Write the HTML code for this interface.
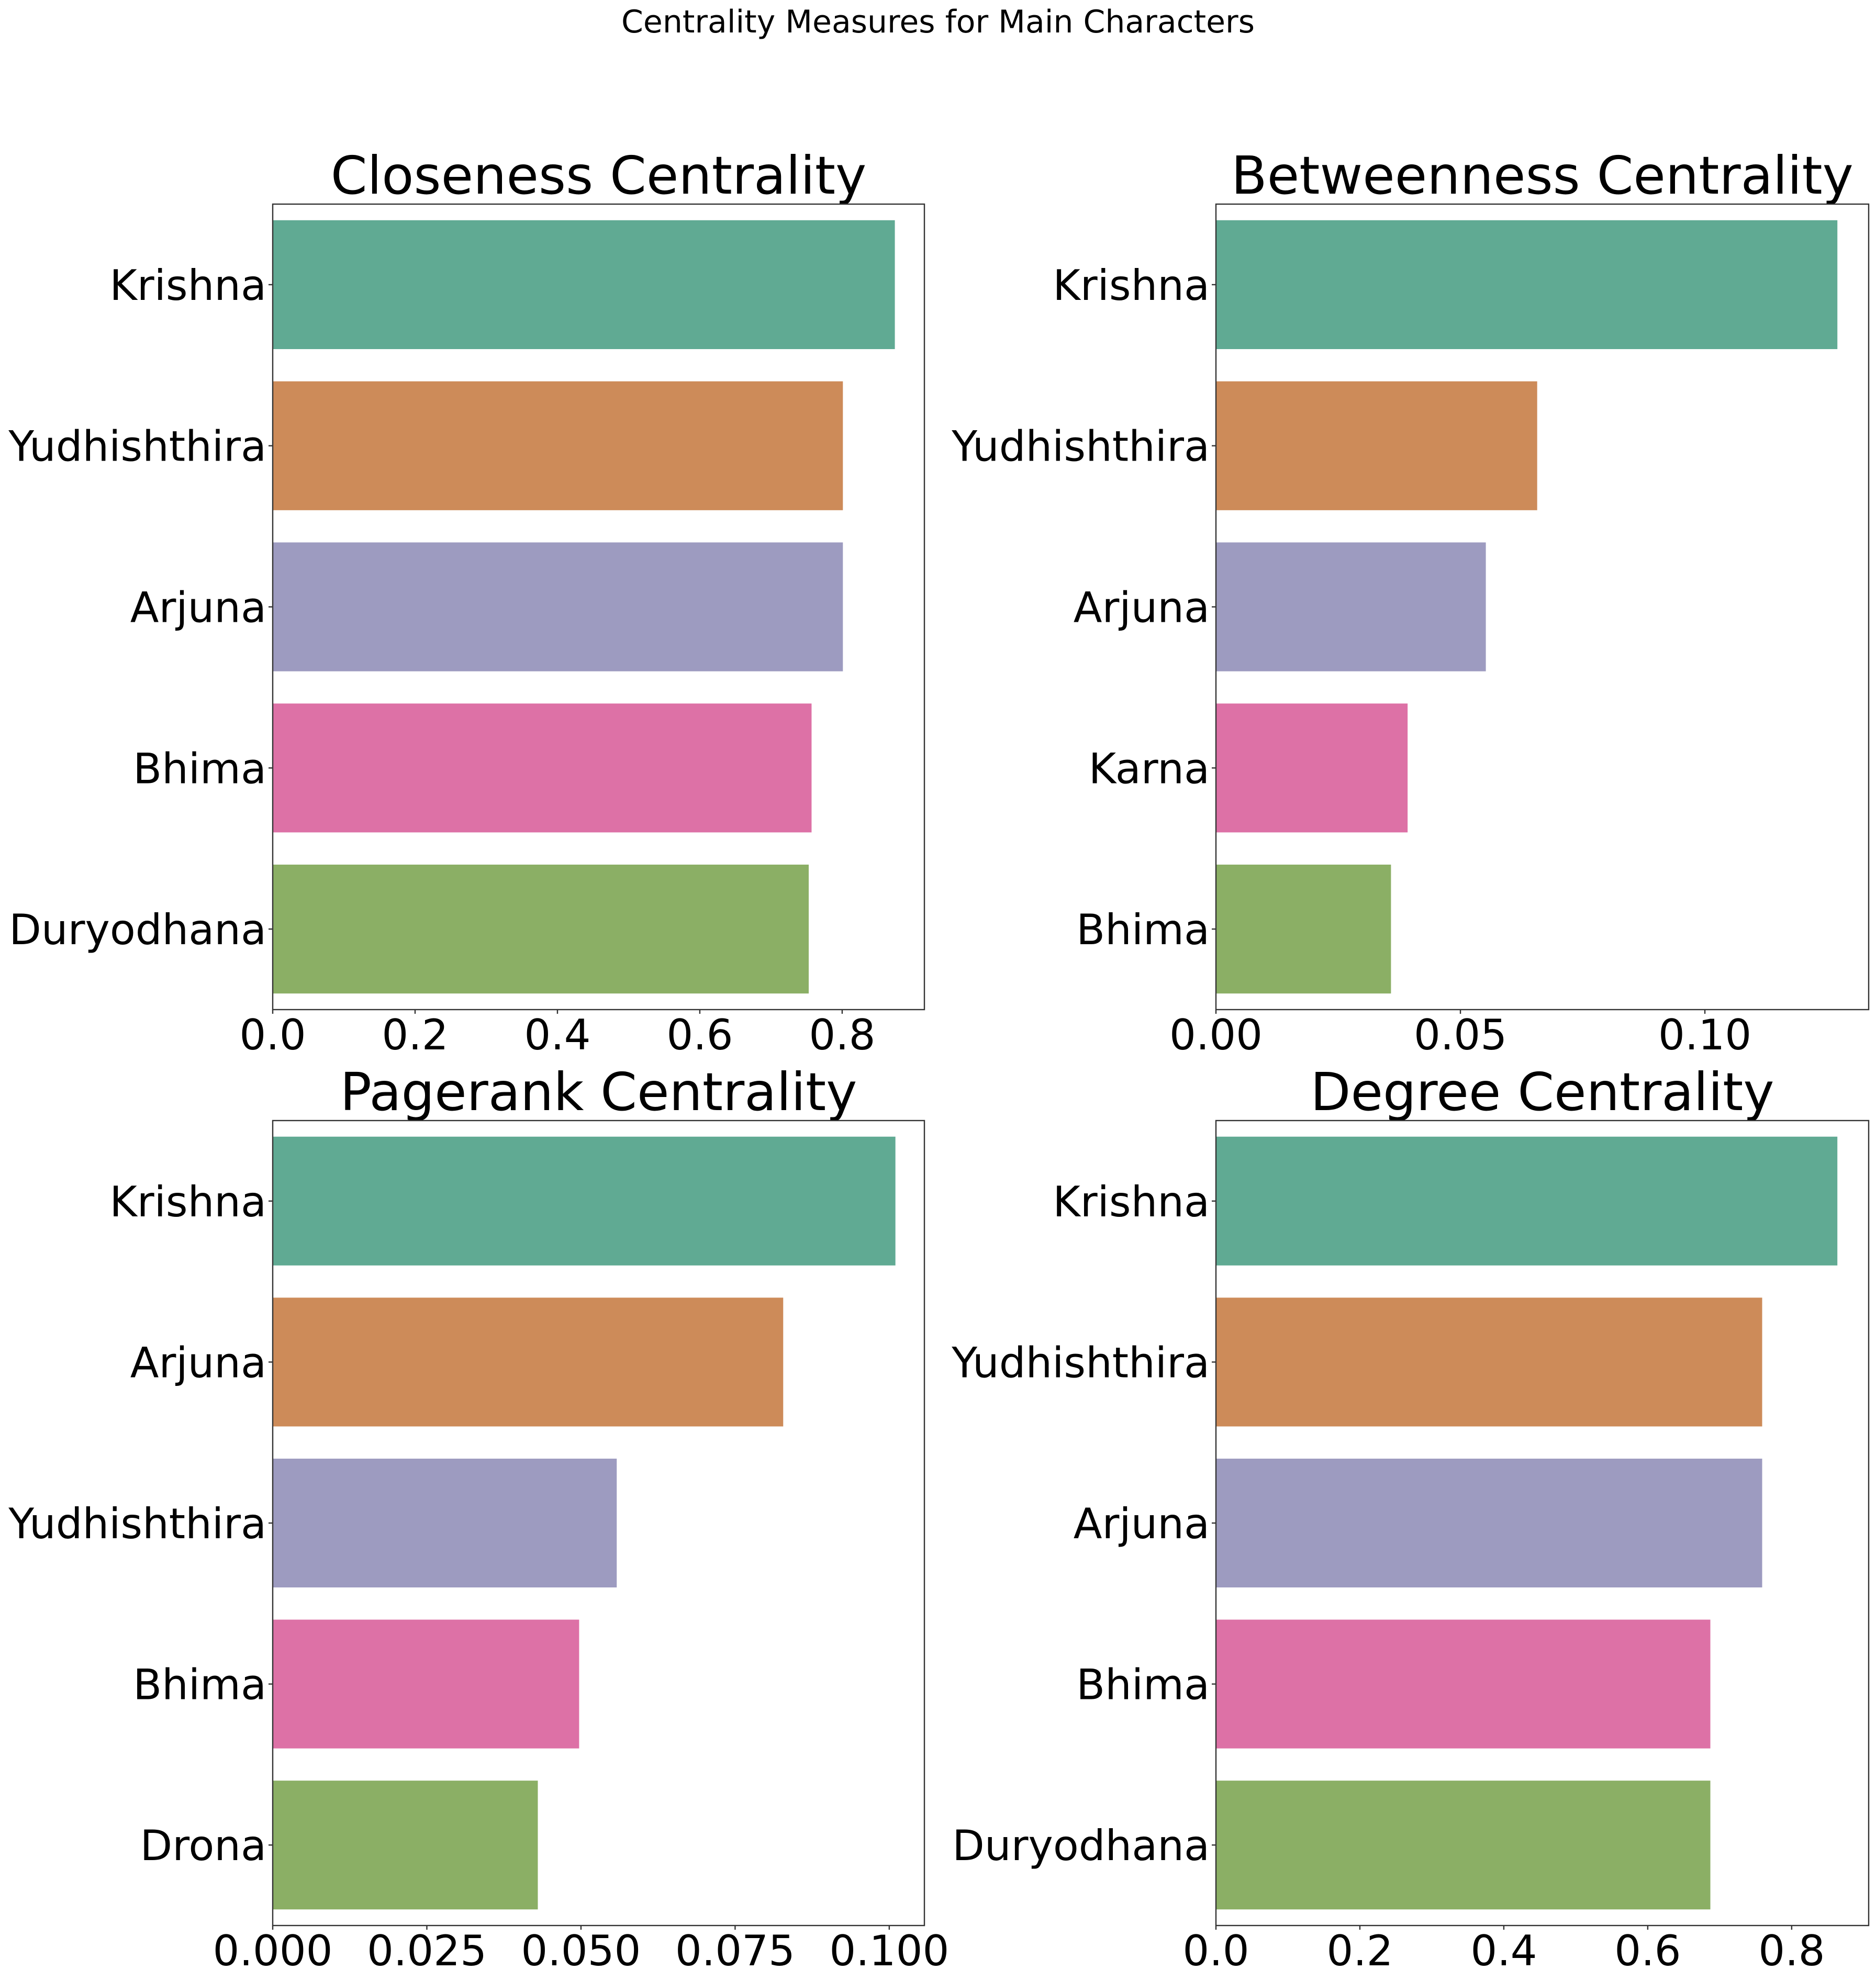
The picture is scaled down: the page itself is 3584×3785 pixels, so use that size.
<!DOCTYPE html>
<html><head><meta charset="utf-8"><style>
html,body{margin:0;padding:0;background:#fff}
svg{display:block;font-family:"DejaVu Sans","Liberation Sans",sans-serif}
</style></head><body>
<svg id="chart" width="3584" height="3785" viewBox="0 0 3584 3785" xmlns="http://www.w3.org/2000/svg">
<rect width="3584" height="3785" fill="#fff"/>
<text x="1792" y="62" font-size="60" text-anchor="middle" fill="#000">Centrality Measures for Main Characters</text>
</svg>
<script>
const closenessCats = ["Krishna","Yudhishthira","Arjuna","Bhima","Duryodhana"];
const closenessVals = [0.874,0.801,0.801,0.757,0.753];
const closenessTicks = ["0.0","0.2","0.4","0.6","0.8"];
const closenessTickVals = [0,0.2,0.4,0.6,0.8];

const betweennessCats = ["Krishna","Yudhishthira","Arjuna","Karna","Bhima"];
const betweennessVals = [0.1271,0.0657,0.0552,0.0392,0.0358];
const betweennessTicks = ["0.00","0.05","0.10"];
const betweennessTickVals = [0,0.05,0.10];

const pagerankCats = ["Krishna","Arjuna","Yudhishthira","Bhima","Drona"];
const pagerankVals = [0.1010,0.0828,0.0558,0.0497,0.0430];
const pagerankTicks = ["0.000","0.025","0.050","0.075","0.100"];
const pagerankTickVals = [0,0.025,0.05,0.075,0.1];

const degreeCats = ["Krishna","Yudhishthira","Arjuna","Bhima","Duryodhana"];
const degreeVals = [0.8635,0.759,0.759,0.687,0.687];
const degreeTicks = ["0.0","0.2","0.4","0.6","0.8"];
const degreeTickVals = [0,0.2,0.4,0.6,0.8];

const colors = ["#60aa93","#cd8b59","#9d9bc0","#dd71a6","#8baf65"];
const NS = "http://www.w3.org/2000/svg";
const svg = document.getElementById('chart');

function mk(tag, attrs, parent){
  const e = document.createElementNS(NS, tag);
  for (const k in attrs) e.setAttribute(k, attrs[k]);
  parent.appendChild(e);
  return e;
}

function panel(key, title, cats, vals, ticks, tickVals, x0, y0, w, h, xmax){
  const g = mk('g', {}, svg);
  
  
  const xs = v => x0 + v / xmax * w;
  const step = h / cats.length;
  const ys = i => y0 + step * (i + 0.5);
  const t = mk('text', {x: x0 + w/2, y: y0 - 20, 'font-size': 100, 'text-anchor': 'middle', fill: '#000'}, g);
  
  
  t.textContent = title;
  cats.forEach((c, i) => {
    const r = mk('rect', {x: xs(0), y: ys(i) - step*0.4, width: xs(vals[i]) - xs(0), height: step*0.8, fill: colors[i]}, g);
    
    
    mk('line', {x1: x0 - 8, x2: x0, y1: ys(i), y2: ys(i), stroke: '#333', 'stroke-width': 2.4}, g);
    const l = mk('text', {x: x0 - 12, y: ys(i) + 29, 'font-size': 80, 'text-anchor': 'end', fill: '#000'}, g);
    
    
    l.textContent = c;
  });
  tickVals.forEach((v, i) => {
    mk('line', {x1: xs(v), x2: xs(v), y1: y0 + h, y2: y0 + h + 8, stroke: '#333', 'stroke-width': 2.4}, g);
    const l = mk('text', {x: xs(v), y: y0 + h + 76, 'font-size': 80, 'text-anchor': 'middle', fill: '#000'}, g);
    
    
    l.textContent = ticks[i];
  });
  const f = mk('rect', {x: x0, y: y0, width: w, height: h, fill: 'none', stroke: '#333', 'stroke-width': 2.4}, g);
  
  
}

panel('closeness', 'Closeness Centrality', closenessCats, closenessVals, closenessTicks, closenessTickVals, 521, 390, 1245, 1539, 0.9155);
panel('betweenness', 'Betweenness Centrality', betweennessCats, betweennessVals, betweennessTicks, betweennessTickVals, 2323, 390, 1247, 1539, 0.1335);
panel('pagerank', 'Pagerank Centrality', pagerankCats, pagerankVals, pagerankTicks, pagerankTickVals, 521, 2141, 1245, 1538, 0.1057);
panel('degree', 'Degree Centrality', degreeCats, degreeVals, degreeTicks, degreeTickVals, 2323, 2141, 1247, 1538, 0.907);
</script>
</body></html>
